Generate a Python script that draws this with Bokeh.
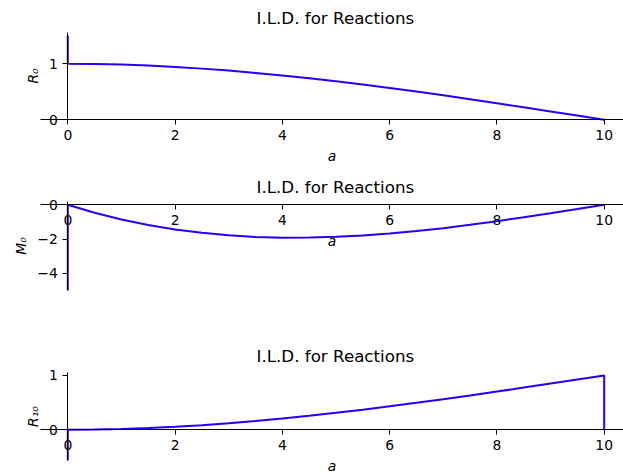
from bokeh.plotting import figure
from bokeh.models import Range1d, FixedTicker, CustomJSTickFormatter
from bokeh.layouts import column
from bokeh.embed import file_html
from bokeh.resources import INLINE

# ---- data ----
title_text = "I.L.D. for Reactions"
x_ticks = [0, 2, 4, 6, 8, 10]

# R_0 influence line (spike at a = 0 followed by the smooth curve)
r0_a = [0.0, 0.0, 0.5, 1.0, 1.5, 2.0, 2.5, 3.0, 3.5, 4.0, 4.5, 5.0,
        5.5, 6.0, 6.5, 7.0, 7.5, 8.0, 8.5, 9.0, 9.5, 10.0]
r0_v = [1.50, 1.000, 0.996, 0.986, 0.968, 0.944, 0.914, 0.879, 0.838, 0.792, 0.742, 0.688,
        0.629, 0.568, 0.504, 0.437, 0.367, 0.296, 0.223, 0.150, 0.075, 0.000]
r0_ticks = [0, 1]

# M_0 influence line
m0_a = [0.0, 0.0, 0.5, 1.0, 1.5, 2.0, 2.5, 3.0, 3.5, 4.0, 4.5, 5.0,
        5.5, 6.0, 6.5, 7.0, 7.5, 8.0, 8.5, 9.0, 9.5, 10.0]
m0_v = [-5.00, 0.000, -0.463, -0.855, -1.179, -1.440, -1.641, -1.785, -1.877, -1.920, -1.918, -1.875,
        -1.794, -1.680, -1.536, -1.365, -1.172, -0.960, -0.733, -0.495, -0.249, 0.000]
m0_ticks = [-4, -2, 0]

# R_10 influence line (spike at a = 0, drop at a = 10)
r10_a = [0.0, 0.0, 0.5, 1.0, 1.5, 2.0, 2.5, 3.0, 3.5, 4.0, 4.5, 5.0,
         5.5, 6.0, 6.5, 7.0, 7.5, 8.0, 8.5, 9.0, 9.5, 10.0, 10.0]
r10_v = [-0.56, 0.000, 0.004, 0.015, 0.032, 0.056, 0.086, 0.122, 0.162, 0.208, 0.258, 0.313,
         0.371, 0.432, 0.496, 0.564, 0.633, 0.704, 0.777, 0.851, 0.925, 1.000, 0.000]
r10_ticks = [0, 1]

LINE_COLOR = "#2200ff"
FONT = "DejaVu Sans"

X_VIEW = (-1.2547, 10.36)     # whole canvas width
X_AXES = (-0.509, 10.36)      # extent of the drawn axis line

minus_fmt = CustomJSTickFormatter(code="""
    if (tick < 0) { return "\\u2212" + Math.abs(tick).toString(); }
    return tick.toString();
""")


def make_panel(xs, ys, ylabel, y_view, y_axes, yticks, top, height):
    p = figure(width=623, height=height,
               x_range=Range1d(*X_VIEW), y_range=Range1d(*y_view),
               output_backend="svg", toolbar_location=None,
               title=title_text,
               min_border_left=0, min_border_right=0,
               min_border_top=top, min_border_bottom=0)
    p.background_fill_color = "white"
    p.border_fill_color = "white"
    p.outline_line_color = None
    p.xgrid.visible = False
    p.ygrid.visible = False

    p.title.align = "left"
    p.title.offset = 256
    p.title.text_font = FONT
    p.title.text_font_size = "16.7px"
    p.title.text_font_style = "normal"
    p.title.text_color = "#000000"
    p.title.standoff = 4

    for ax in (p.xaxis[0], p.yaxis[0]):
        ax.fixed_location = 0
        ax.axis_line_color = "#000000"
        ax.axis_line_width = 1
        ax.major_tick_line_color = "#000000"
        ax.major_tick_in = 0
        ax.major_tick_out = 5
        ax.minor_tick_line_color = None
        ax.major_label_text_font = FONT
        ax.major_label_text_font_size = "13.9px"
        ax.major_label_text_color = "#000000"
        ax.major_label_standoff = 5
        ax.axis_label_text_font = FONT
        ax.axis_label_text_font_size = "13.9px"
        ax.axis_label_text_font_style = "italic"
        ax.axis_label_text_color = "#000000"
        ax.axis_label_standoff = 5
        ax.formatter = minus_fmt

    p.xaxis[0].bounds = X_AXES
    p.yaxis[0].bounds = y_axes
    p.xaxis[0].ticker = FixedTicker(ticks=x_ticks)
    p.yaxis[0].ticker = FixedTicker(ticks=yticks)
    p.xaxis[0].axis_label = "a"
    p.yaxis[0].axis_label = ylabel

    p.line(xs, ys, line_color=LINE_COLOR, line_width=2)
    return p


p1 = make_panel(r0_a, r0_v, "R\u2080", (-0.9055, 1.6128), (0.0, 1.559), r0_ticks, 29, 170)
p2 = make_panel(m0_a, m0_v, "M\u2080", (-7.933, 0.368), (-5.01, 0.193), m0_ticks, 28, 170)
p3 = make_panel(r10_a, r10_v, "R\u2081\u2080", (-0.786, 1.147), (-0.565, 1.055), r10_ticks, 27, 132)

layout = column(p1, p2, p3, spacing=0)

open("out.html", "w").write(file_html(layout, INLINE))
